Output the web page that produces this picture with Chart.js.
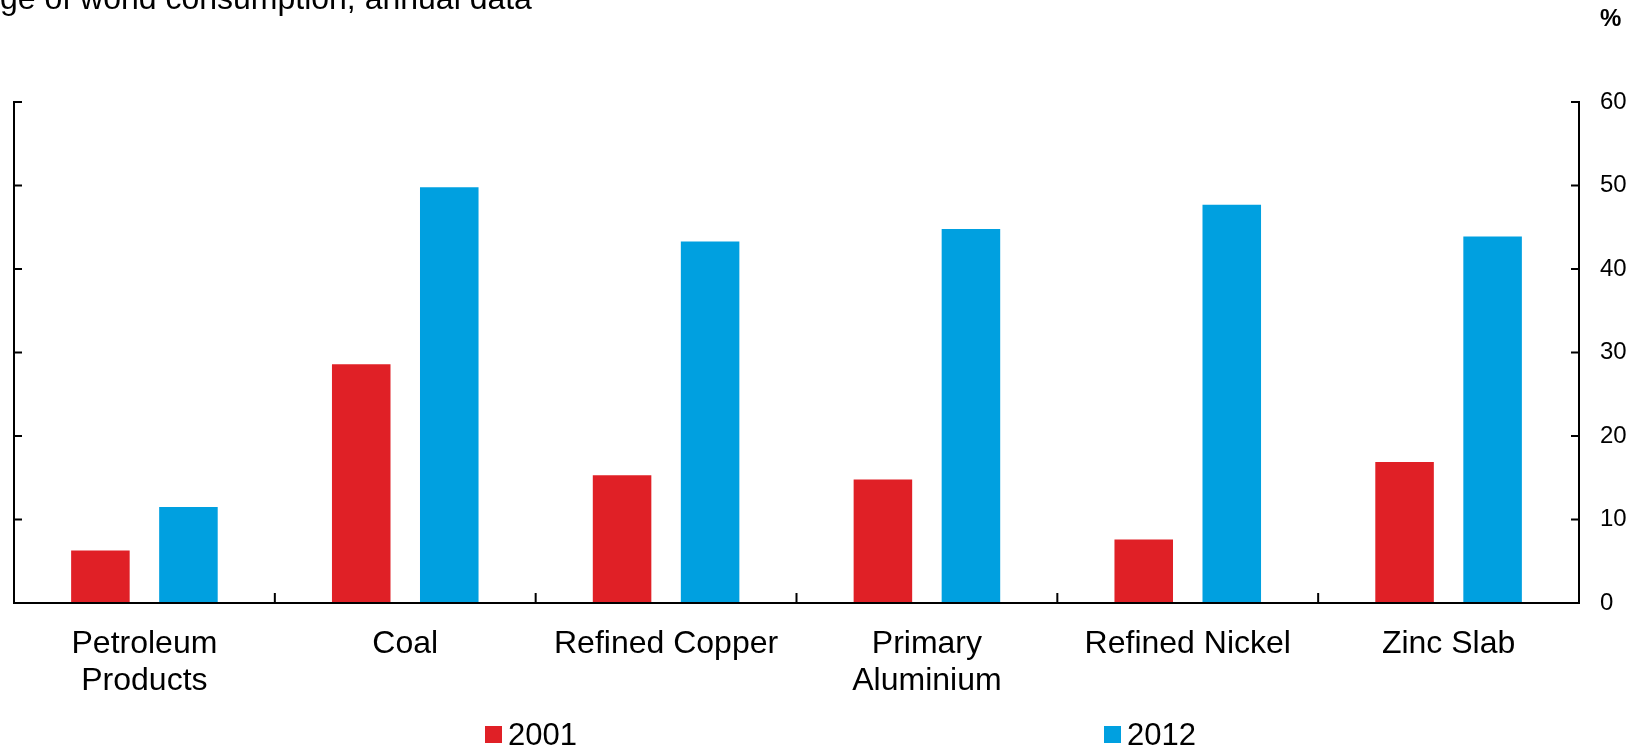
<!DOCTYPE html>
<html>
<head>
<meta charset="utf-8">
<script src="https://cdn.jsdelivr.net/npm/chart.js@4.4.1/dist/chart.umd.min.js"></script>
<style>
  html, body { margin: 0; padding: 0; background: #fff; }
  #wrap { width: 1641px; height: 748px; }
</style>
</head>
<body>
<div id="wrap"><canvas id="chart" width="1641" height="748"></canvas></div>
<script>
// values
const categories = [['Petroleum', 'Products'], 'Coal', 'Refined Copper', ['Primary', 'Aluminium'], 'Refined Nickel', 'Zinc Slab'];
const seriesNames = ['2001', '2012'];
const share2001 = [6.3, 28.6, 15.3, 14.8, 7.6, 16.9];
const share2012 = [11.5, 49.8, 43.3, 44.8, 47.7, 43.9];
const yTicks = [0, 10, 20, 30, 40, 50, 60];
const titleText = 'ge of world consumption, annual data';
const unitText = '%';

const FONT = "'Liberation Sans', Arial, sans-serif";
const RED = '#e02026';
const BLUE = '#00a0e0';

// axis lines + inward tick marks, like the original
const axesPlugin = {
    id: 'axesLines',
    afterDatasetsDraw(chart) {
        const { ctx, chartArea: a, scales: { x, y } } = chart;
        ctx.save();
        ctx.strokeStyle = '#000';
        ctx.lineWidth = 2;
        ctx.lineCap = 'square';
        ctx.beginPath();
        ctx.moveTo(a.left, a.top);
        ctx.lineTo(a.left, a.bottom);
        ctx.lineTo(a.right, a.bottom);
        ctx.lineTo(a.right, a.top);
        yTicks.forEach(v => {
            const py = y.getPixelForValue(v);
            ctx.moveTo(a.left, py);
            ctx.lineTo(a.left + 7, py);
            ctx.moveTo(a.right, py);
            ctx.lineTo(a.right - 7, py);
        });
        for (let i = 1; i < categories.length; i++) {
            const px = (x.getPixelForValue(i - 1) + x.getPixelForValue(i)) / 2;
            ctx.moveTo(px, a.bottom);
            ctx.lineTo(px, a.bottom - 9);
        }
        ctx.stroke();
        ctx.restore();
    }
};

// subtitle, unit label and the spread-out legend
const textPlugin = {
    id: 'extraText',
    afterDraw(chart) {
        const { ctx } = chart;
        ctx.save();
        ctx.fillStyle = '#000';
        ctx.textBaseline = 'alphabetic';
        ctx.textAlign = 'left';
        ctx.font = '32px ' + FONT;
        ctx.fillText(titleText, 0, 9);
        ctx.font = 'bold 24px ' + FONT;
        ctx.fillText(unitText, 1600, 26);

        const legendX = [485, 1104];
        ctx.font = '31px ' + FONT;
        chart.data.datasets.forEach((ds, i) => {
            ctx.fillStyle = ds.backgroundColor;
            ctx.fillRect(legendX[i], 726, 17, 17);
            ctx.fillStyle = '#000';
            ctx.fillText(ds.label, legendX[i] + 23, 745);
        });
        ctx.restore();
    }
};

const ctx = document.getElementById('chart').getContext('2d');
const chart = new Chart(ctx, {
    type: 'bar',
    data: {
        labels: categories,
        datasets: [
            { label: seriesNames[0], data: share2001, backgroundColor: RED },
            { label: seriesNames[1], data: share2012, backgroundColor: BLUE }
        ]
    },
    options: {
        responsive: false,
        animation: false,
        devicePixelRatio: 1,
        categoryPercentage: 0.675,
        barPercentage: 0.665,
        layout: { padding: { left: 14, top: 102, right: 0, bottom: 0 } },
        scales: {
            x: {
                grid: { display: false, drawTicks: false },
                border: { display: false },
                ticks: {
                    color: '#000',
                    padding: 23,
                    maxRotation: 0,
                    autoSkip: false,
                    font: { family: FONT, size: 32, lineHeight: 1.14 }
                },
                afterFit(scale) { scale.height = 145; }
            },
            y: {
                position: 'right',
                min: 0,
                max: 60,
                grid: { display: false, drawTicks: false },
                border: { display: false },
                ticks: {
                    stepSize: 10,
                    color: '#000',
                    padding: 21,
                    font: { family: FONT, size: 24 }
                },
                afterFit(scale) { scale.width = 62; }
            }
        },
        plugins: {
            legend: { display: false },
            tooltip: { enabled: false }
        }
    },
    plugins: [axesPlugin, textPlugin]
});
</script>
</body>
</html>
